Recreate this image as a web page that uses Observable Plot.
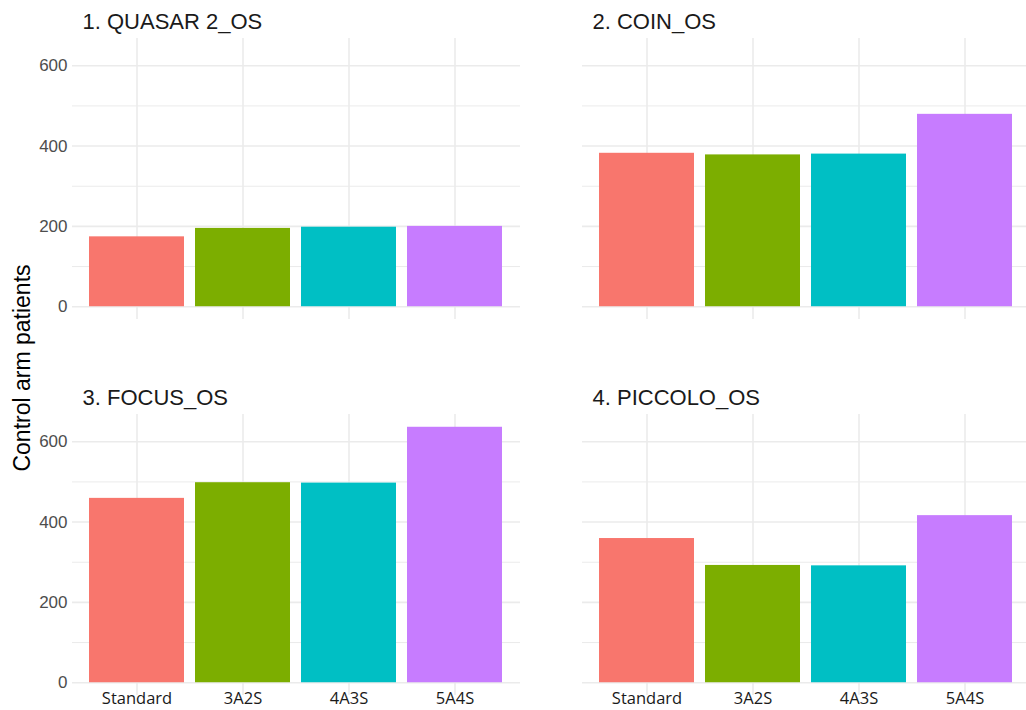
<!DOCTYPE html>
<html>
<head>
<meta charset="utf-8">
<script src="https://cdn.jsdelivr.net/npm/d3@7"></script>
<script src="https://cdn.jsdelivr.net/npm/@observablehq/plot@0.6"></script>
<style>
  html, body { margin: 0; padding: 0; background: #fff; overflow: hidden; }
</style>
</head>
<body>
<div id="chart"></div>
<script>
// ---- data ----
const panels = ["1. QUASAR 2_OS", "2. COIN_OS", "3. FOCUS_OS", "4. PICCOLO_OS"];
const arms = ["Standard", "3A2S", "4A3S", "5A4S"];
const quasar = [174, 195, 198, 200];
const coin = [382, 378, 380, 479];
const focus = [459, 498, 497, 636];
const piccolo = [359, 292, 291, 416];
const armColors = ["#F8766D", "#7CAE00", "#00BFC4", "#C77CFF"];
const yTicks = [0, 200, 400, 600];
const yMinorTicks = [100, 300, 500];
const yLabel = "Control arm patients";

const series = [quasar, coin, focus, piccolo];
const rows = [];
series.forEach((vals, p) => {
  vals.forEach((v, i) => rows.push({panel: panels[p], col: p % 2, row: Math.floor(p / 2), arm: arms[i], value: v}));
});
const maxVal = d3.max(rows, d => d.value);

const panelInfo = panels.map((name, p) => ({panel: name, col: p % 2, row: Math.floor(p / 2)}));
const yTickRows = [];
[0, 1].forEach(r => yTicks.forEach(t => yTickRows.push({row: r, col: 0, t})));
const xTickRows = [];
[0, 1].forEach(c => arms.forEach(a => xTickRows.push({row: 1, col: c, arm: a})));

const chart = Plot.plot({
  width: 1026,
  height: 710,
  marginLeft: 72,
  marginRight: -4,
  marginTop: 38,
  marginBottom: 14,
  style: {fontFamily: "'Liberation Sans', Arial, sans-serif", background: "#fff"},
  fx: {domain: [0, 1], paddingInner: 0.1216, paddingOuter: 0, axis: null},
  fy: {domain: [0, 1], paddingInner: 0.252, paddingOuter: 0, axis: null},
  x: {domain: arms, paddingInner: 0.1, paddingOuter: 0.15, axis: null},
  y: {domain: [-0.05 * maxVal, 1.05 * maxVal], axis: null},
  color: {domain: arms, range: armColors},
  marks: [
    Plot.ruleY(yMinorTicks, {stroke: "#EBEBEB", strokeWidth: 1.0}),
    Plot.ruleY(yTicks, {stroke: "#EBEBEB", strokeWidth: 1.6}),
    Plot.gridX(arms, {stroke: "#EBEBEB", strokeOpacity: 1, strokeWidth: 1.6}),
    Plot.barY(rows, {fx: "col", fy: "row", x: "arm", y: "value", fill: "arm"}),
    Plot.text(yTickRows, {fx: "col", fy: "row", y: "t", text: d => String(d.t), frameAnchor: "left", textAnchor: "end", dx: -5, fontSize: 17, fill: "#4D4D4D"}),
    Plot.text(xTickRows, {fx: "col", fy: "row", x: "arm", text: "arm", frameAnchor: "bottom", lineAnchor: "top", dy: -3, fontSize: 16.5, fill: "#1A1A1A", fontFamily: "'Open Sans', sans-serif"}),
    Plot.text(panelInfo, {fx: "col", fy: "row", text: "panel", frameAnchor: "top-left", textAnchor: "start", lineAnchor: "bottom", dx: 10, dy: -10, fontSize: 22, fill: "#1A1A1A"})
  ]
});

d3.select(chart).append("text")
  .attr("transform", "translate(30,368) rotate(-90)")
  .attr("text-anchor", "middle")
  .attr("font-size", 23)
  .attr("fill", "#000")
  .attr("font-family", "'Liberation Sans', Arial, sans-serif")
  .text(yLabel);

document.getElementById("chart").appendChild(chart);
</script>
</body>
</html>
